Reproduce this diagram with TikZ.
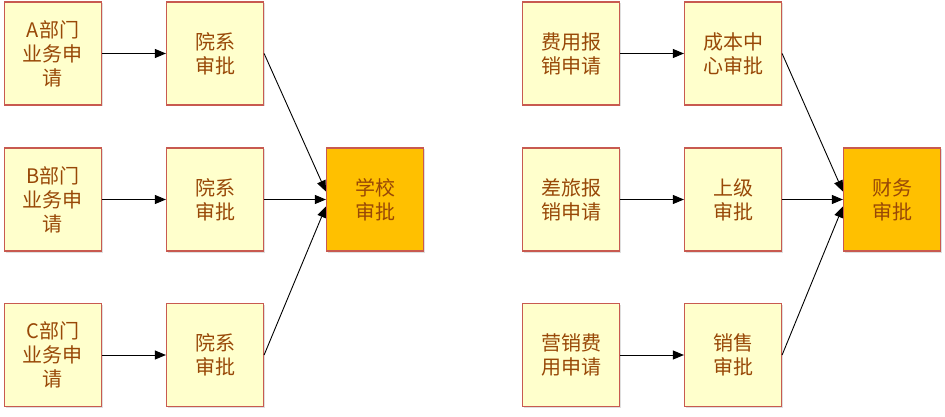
\documentclass[tikz,border=0pt]{standalone}
\usepackage{fontspec}
\setmainfont{Noto Sans CJK SC}
\usetikzlibrary{arrows.meta, positioning, shadows}
\definecolor{boxfill}{RGB}{255,255,204}
\definecolor{boxline}{RGB}{200,90,80}
\definecolor{textbrown}{RGB}{152,72,7}
\definecolor{goldfill}{RGB}{255,192,0}

\begin{document}
\begin{tikzpicture}[x=1pt, y=-1pt, on grid, node distance=162pt,
    box/.style={draw=boxline, line width=1.2pt, fill=boxfill, minimum width=97pt, minimum height=103pt,
        align=center, text=textbrown, font=\fontsize{20}{24}\selectfont,
        drop shadow={shadow xshift=1.5pt, shadow yshift=-1.5pt, opacity=0.25}},
    goalbox/.style={box, fill=goldfill},
    flow/.style={-{Triangle[length=11pt, width=9pt]}, line width=0.9pt}]
        \useasboundingbox (0,0) rectangle (945,417);
        % left: school
        \node[box] (a1) at (53,53.5) {A部门\\业务申\\请};
        \node[box] (a2) [below=146pt of a1] {B部门\\业务申\\请};
        \node[box] (a3) [below=155.5pt of a2] {C部门\\业务申\\请};
        \node[box] (b1) [right=of a1] {院系\\审批};
        \node[box] (b2) [right=of a2] {院系\\审批};
        \node[box] (b3) [right=of a3] {院系\\审批};
        \node[goalbox] (school) [right=160pt of b2] {学校\\审批};
        % right: finance
        \node[box] (c1) [right=518pt of a1] {费用报\\销申请};
        \node[box] (c2) [right=518pt of a2] {差旅报\\销申请};
        \node[box] (c3) [right=518pt of a3] {营销费\\用申请};
        \node[box] (d1) [right=of c1] {成本中\\心审批};
        \node[box] (d2) [right=of c2] {上级\\审批};
        \node[box] (d3) [right=of c3] {销售\\审批};
        \node[goalbox] (fin) [right=159pt of d2] {财务\\审批};
        \path[flow]
        (a1) edge (b1)
        (a2) edge (b2)
        (a3) edge (b3)
        (b1.east) edge ([yshift=8pt]school.west)
        (b2.east) edge (school.west)
        (b3.east) edge ([yshift=-7pt]school.west)
        (c1) edge (d1)
        (c2) edge (d2)
        (c3) edge (d3)
        (d1.east) edge ([yshift=8pt]fin.west)
        (d2.east) edge (fin.west)
        (d3.east) edge ([yshift=-7pt]fin.west);
\end{tikzpicture}
\end{document}
